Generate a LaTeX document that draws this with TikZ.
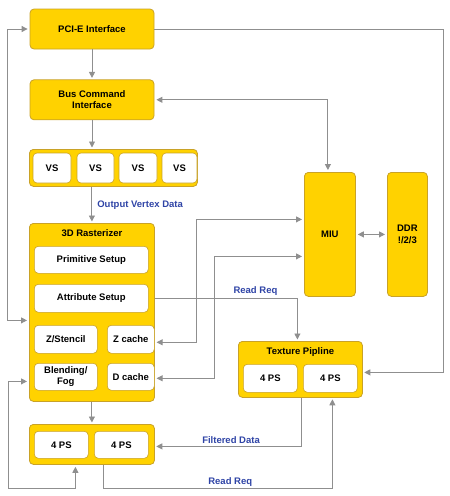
\documentclass[tikz,border=0pt]{standalone}
\usepackage{fontspec}
\setmainfont{Liberation Sans}
\usetikzlibrary{arrows.meta,positioning,calc}
\definecolor{gpuyellow}{HTML}{FFD200}
\definecolor{gpuedge}{HTML}{C9A227}
\definecolor{wiregray}{HTML}{8F8F8F}
\definecolor{labelblue}{HTML}{2F44A6}

\begin{document}
\begin{tikzpicture}[
    x=1pt, y=-1pt,
    font=\fontsize{9.5}{11.5}\selectfont\bfseries,
    unit/.style={draw=gpuedge, fill=gpuyellow, rounded corners=4pt, align=center, inner sep=0pt, line width=0.8pt},
    cell/.style={draw=gpuedge, fill=white, rounded corners=4pt, align=center, inner sep=0pt, minimum height=27pt, line width=0.6pt},
    title/.style={inner sep=0pt, anchor=north},
    tag/.style={text=labelblue, inner sep=2pt},
    arrow/.style={draw=wiregray, line width=0.9pt, -{Triangle[length=6pt,width=6pt]}, shorten >=1.5pt},
    biarrow/.style={draw=wiregray, line width=0.9pt, {Triangle[length=6pt,width=6pt]}-{Triangle[length=6pt,width=6pt]}, shorten >=2pt, shorten <=2pt}
]
    \useasboundingbox (0,0) rectangle (450,496);

    % Nodes
    \node[unit, minimum width=124pt, minimum height=40pt] (pcie) at (92,29) {PCI-E Interface};
    \node[unit, minimum width=124pt, minimum height=40pt, below=30pt of pcie] (bus) {Bus Command\\Interface};

    \node[unit, minimum width=168pt, minimum height=37pt, anchor=north west] (vsbox) at (29,149) {};
    \foreach \x/\w [count=\i] in {52/38, 95.5/37, 138/38, 179.5/35}
        \node[cell, minimum width=\w pt, minimum height=30pt] (vs\i) at (\x,168) {VS};

    \node[unit, minimum width=125pt, minimum height=178pt, anchor=north west] (raster) at (29,223) {};
    \node[title, below=6.5pt of raster.north] (rastitle) {3D Rasterizer};
    \node[cell, minimum width=114pt, anchor=north west] (prim) at (34,246) {Primitive Setup};
    \node[cell, minimum width=114pt, minimum height=28pt, anchor=north west] (attr) at (34,284) {Attribute Setup};
    \node[cell, minimum width=63pt, minimum height=28pt, anchor=north west] (zsten) at (34,325) {Z/Stencil};
    \node[cell, minimum width=47pt, minimum height=28pt, anchor=north west] (zcache) at (107,325) {Z cache};
    \node[cell, minimum width=63pt, anchor=north west] (blend) at (34,363) {Blending/\\Fog};
    \node[cell, minimum width=47pt, anchor=north west] (dcache) at (107,363) {D cache};

    \node[unit, minimum width=125pt, minimum height=40pt, anchor=north west] (pscont) at (29,424) {};
    \node[cell, minimum width=54pt, anchor=north west] (ps1) at (34,431) {4 PS};
    \node[cell, minimum width=54pt, anchor=north west] (ps2) at (94,431) {4 PS};

    \node[unit, minimum width=51pt, minimum height=124pt, anchor=north west] (miu) at (304,172) {MIU};
    \node[unit, minimum width=40pt, minimum height=124pt, anchor=north west] (ddr) at (387,172) {DDR\\!/2/3};

    \node[unit, minimum width=124pt, minimum height=56pt, anchor=north west] (tex) at (238,341) {};
    \node[title, below=6.5pt of tex.north] (textitle) {Texture Pipline};
    \node[cell, minimum width=54pt, minimum height=28pt, anchor=north west] (texps1) at (243,364) {4 PS};
    \node[cell, minimum width=54pt, minimum height=28pt, anchor=north west] (texps2) at (303,364) {4 PS};

    % Connections
    \path[arrow] (pcie) -- (bus);
    \path[arrow] (bus.south) -- (bus.south |- vsbox.north);
    \path[arrow] (vsbox.south -| raster.north) -- node[tag, right, xshift=3pt] {Output Vertex Data} (raster.north);
    \path[arrow] (raster) -- (pscont);

    \path[biarrow] (pcie.west) -- ++(-22,0) |- ([yshift=-8pt]raster.west);
    \path[biarrow] ([yshift=-69pt]raster.west) -| ++(-21,107) -| ([xshift=-16.5pt]pscont.south);

    \path[arrow] (pcie.east) -- ++(289,0) |- ([yshift=-3pt]tex.east);
    \path[biarrow] (bus.east) -| ([xshift=-2pt]miu.north);
    \path[biarrow] (miu.east) -- (ddr.west);

    \path[biarrow] ([yshift=-3pt]zcache.east) -- ++(42,0) |- ([yshift=15pt]miu.west);
    \path[biarrow] ([yshift=-1.5pt]dcache.east) -- ++(60,0) |- ([yshift=-22pt]miu.west);

    \path[arrow] (attr.east -| raster.east) -| node[tag, above, pos=0.353] {Read Req} ([xshift=-3pt]tex.north);
    \path[arrow] ([xshift=1pt]tex.south) |- node[tag, above, pos=0.74] {Filtered Data} ([yshift=-2pt]pscont.east);
    \path[arrow] ([xshift=11.5pt]pscont.south) -- ++(0,24) -| node[tag, above, pos=0.277] {Read Req} ([xshift=32pt]tex.south);

\end{tikzpicture}
\end{document}
